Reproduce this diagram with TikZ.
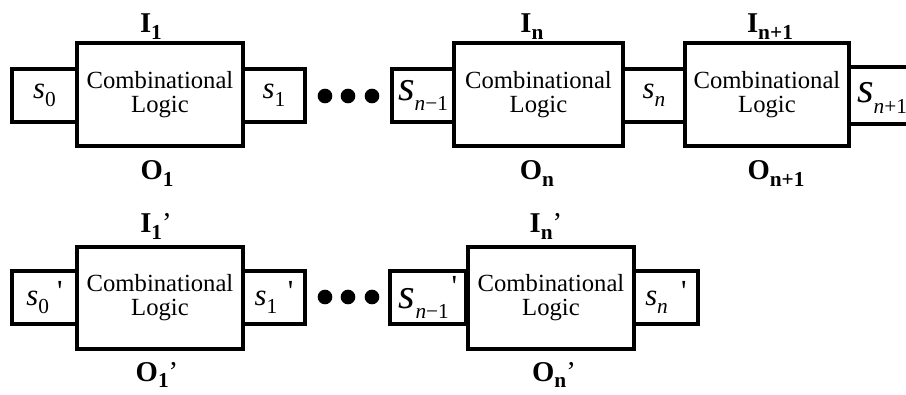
\documentclass[tikz,border=0pt]{standalone}
\usepackage{fontspec}
\setmainfont{LiberationSerif}[Extension=.ttf, UprightFont=*-Regular, BoldFont=*-Bold,
  ItalicFont=*-Italic, BoldItalicFont=*-BoldItalic]

\newcommand{\st}[3][23]{{\fontsize{#1}{#1}\selectfont\itshape s}\raisebox{#2}{\fontsize{16}{16}\selectfont #3}}
\newcommand{\lab}[2]{\textbf{#1}\raisebox{-5pt}{\fontsize{16}{16}\selectfont\bfseries #2}}
\newcommand{\tick}{\raisebox{3pt}{\textquotesingle}}

\tikzset{
  logic/.style={draw, line width=3pt, minimum width=124.5pt, minimum height=77pt,
    align=center, inner sep=0pt, font=\rmfamily\fontsize{18.5}{18}\selectfont},
  state/.style={draw, line width=3pt, minimum width=46.5pt, minimum height=40pt,
    inner sep=0pt, font=\rmfamily\fontsize{23}{23}\selectfont},
  wire/.style={line width=3pt},
  lbl/.style={anchor=base, inner sep=0pt, font=\rmfamily\fontsize{21.5}{21.5}\selectfont},
  dot/.style={circle, fill, inner sep=0pt, minimum size=11pt},
}

\begin{document}
\begin{tikzpicture}[x=0.75pt, y=-0.75pt]
    \useasboundingbox (0,0) rectangle (906,395);

    % first row
    \node[state, minimum width=48.75pt] (s0) at (44.5,95.5) {\st{-6pt}{0}};
    \node[logic] (cl1) at (160,94.5) {Combinational\\Logic};
    \node[state] (s1) at (274,95.5) {\st{-6pt}{1}};
    \node[dot] (d1) at (325,96) {};
    \node[dot] (d2) at (348,96) {};
    \node[dot] (d3) at (372,96) {};
    \node[state] (sm) at (423,95.5) {\st[32]{-8pt}{\textit{n}−1}};
    \node[logic, minimum width=126.75pt] (cln) at (538.5,94.5) {Combinational\\Logic};
    \node[state] (sn) at (654,95.5) {\st{-6pt}{\textit{n}}};
    \node[logic, minimum width=123pt] (clm) at (767,94.5) {Combinational\\Logic};
    \coordinate (edge) at (906,95.5);
    \draw[wire] (clm.east |- sn.north) -- (edge |- sn.north);
    \draw[wire] (clm.east |- sn.south) -- (edge |- sn.south);
    \node[font=\rmfamily\fontsize{23}{23}\selectfont, inner sep=0pt] (sp) at (882,98) {\st[32]{-8pt}{\textit{n}+1}};

    \node[lbl] (i1) at (151,33) {\lab{I}{1}};
    \node[lbl] (o1) at (157,180) {\lab{O}{1}};
    \node[lbl] (in) at (532,33) {\lab{I}{n}};
    \node[lbl] (on) at (537,180) {\lab{O}{n}};
    \node[lbl] (ip) at (770,33) {\lab{I}{n+1}};
    \node[lbl] (op) at (776,180) {\lab{O}{n+1}};

    % second row
    \node[state, minimum width=48.75pt] (t0) at (44.5,297.5) {\st{-6pt}{0}\hspace{6pt}\tick};
    \node[logic] (dl1) at (160,298) {Combinational\\Logic};
    \node[state] (t1) at (274,297.5) {\st{-6pt}{1}\hspace{8pt}\tick};
    \node[dot] (e1) at (325,297) {};
    \node[dot] (e2) at (348,297) {};
    \node[dot] (e3) at (372,297) {};
    \node[state, minimum width=57pt] (tm) at (428,297.5) {\raisebox{-6pt}{\st[32]{-8pt}{\textit{n}−1}}\hspace{2pt}\tick};
    \node[logic] (dln) at (551,298) {Combinational\\Logic};
    \node[state, minimum width=48pt] (tn) at (666,297.5) {\st{-6pt}{\textit{n}}\hspace{10pt}\tick};

    \node[lbl] (j1) at (156,233) {\lab{I}{1}’};
    \node[lbl] (p1) at (157,381) {\lab{O}{1}’};
    \node[lbl] (jn) at (546,233) {\lab{I}{n}’};
    \node[lbl] (pn) at (554,381) {\lab{O}{n}’};
\end{tikzpicture}
\end{document}
